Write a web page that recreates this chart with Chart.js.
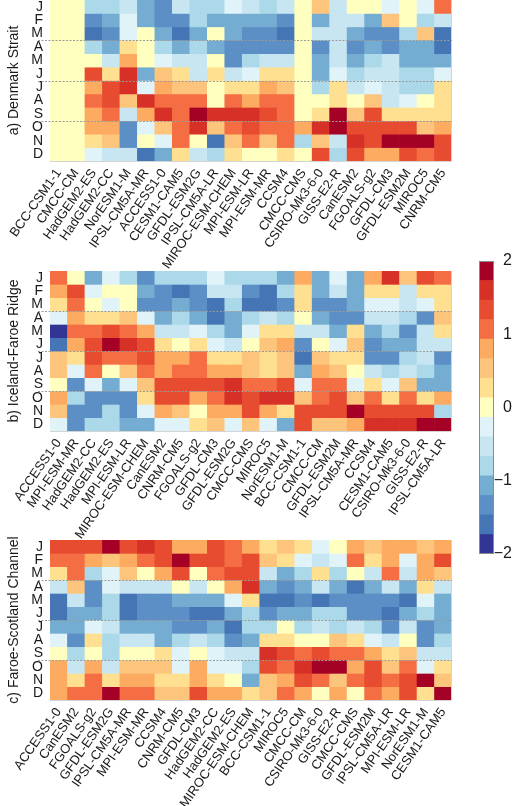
<!DOCTYPE html>
<html>
<head>
<meta charset="utf-8">
<script src="https://cdn.jsdelivr.net/npm/chart.js@4.4.1/dist/chart.umd.min.js"></script>
<style>
  body { margin: 0; background: #fff; }
  #page { position: relative; width: 520px; height: 806px; overflow: hidden; }
  canvas { position: absolute; }
</style>
</head>
<body>
<div id="page">
  <canvas id="chart-a" width="452" height="280" style="left:0;top:0"></canvas>
  <canvas id="chart-b" width="452" height="281" style="left:0;top:262px"></canvas>
  <canvas id="chart-c" width="452" height="282" style="left:0;top:530px"></canvas>
  <canvas id="colorbar" width="54" height="316" style="left:466px;top:250px"></canvas>
</div>
<script>
// Month rows (top to bottom)
const months = ["J", "F", "M", "A", "M", "J", "J", "A", "S", "O", "N", "D"];

// Model order of each panel
const denmarkModels = ["BCC-CSM1-1", "CMCC-CM", "HadGEM2-ES", "HadGEM2-CC", "NorESM1-M", "IPSL-CM5A-MR", "ACCESS1-0", "CESM1-CAM5", "GFDL-ESM2G", "IPSL-CM5A-LR", "MIROC-ESM-CHEM", "MPI-ESM-LR", "MPI-ESM-MR", "CCSM4", "CMCC-CMS", "CSIRO-Mk3-6-0", "GISS-E2-R", "CanESM2", "FGOALS-g2", "GFDL-CM3", "GFDL-ESM2M", "MIROC5", "CNRM-CM5"];
const icelandModels = ["ACCESS1-0", "MPI-ESM-MR", "HadGEM2-CC", "HadGEM2-ES", "MPI-ESM-LR", "MIROC-ESM-CHEM", "CanESM2", "CNRM-CM5", "FGOALS-g2", "GFDL-CM3", "GFDL-ESM2G", "CMCC-CMS", "MIROC5", "NorESM1-M", "BCC-CSM1-1", "CMCC-CM", "GFDL-ESM2M", "IPSL-CM5A-MR", "CCSM4", "CESM1-CAM5", "CSIRO-Mk3-6-0", "GISS-E2-R", "IPSL-CM5A-LR"];
const faroeModels = ["ACCESS1-0", "CanESM2", "FGOALS-g2", "GFDL-ESM2G", "IPSL-CM5A-MR", "MPI-ESM-MR", "CCSM4", "CNRM-CM5", "GFDL-CM3", "HadGEM2-CC", "HadGEM2-ES", "MIROC-ESM-CHEM", "BCC-CSM1-1", "MIROC5", "CMCC-CM", "CSIRO-Mk3-6-0", "GISS-E2-R", "CMCC-CMS", "GFDL-ESM2M", "IPSL-CM5A-LR", "MPI-ESM-LR", "NorESM1-M", "CESM1-CAM5"];

// Anomaly values, one row per month (J..D), one column per model
const denmarkValues = [
  [0, 0, -0.8, -0.8, -0.5, -1.1, -1.3, -0.5, -0.8, -0.8, -0.3, -0.5, -0.8, -0.5, 0, 0.5, -0.5, 0, 0, -0.3, 0, -0.3, 1.1],
  [0, 0, -1.3, -1.1, -0.3, -1.1, -1.3, -1.3, -0.8, -1.1, -1.1, -1.1, -1.1, -1.3, 0, -1.1, -0.5, -0.5, -1.1, 0.5, 0, -0.8, -0.5],
  [0, 0, -1.6, -1.3, -0.3, 0, -1.1, -1.6, -1.1, 0, -1.1, -1.3, -1.3, -1.6, 0, -0.5, -0.5, -1.1, -1.3, -1.3, -0.8, 0.5, -1.6],
  [0, 0, -0.8, -1.1, 0.3, 0, -0.8, -1.1, -0.8, -1.1, -1.3, -1.3, -1.3, -1.3, 0, -1.3, -0.5, -1.3, -1.1, -1.3, -1.1, -1.1, -1.6],
  [0, 0, 0, -0.5, 0.8, 0, -0.3, -0.5, -0.5, 0, -1.3, -0.8, -0.5, -0.5, 0, -1.1, -0.5, -1.1, -0.8, -0.5, -1.1, -1.1, -1.1],
  [0, 0, 1.3, 0.3, 1.6, -1.1, 0.5, 0.3, -0.5, 0.3, -0.5, -0.3, 0.3, 0.3, 0, -1.1, -0.3, -0.8, -0.5, -0.5, -0.8, -0.8, -0.3],
  [0, 0, 0.8, 1.3, 1.6, -0.3, 0.8, 0.5, 0.5, 0, 0.3, 0.3, 0.8, 0.5, 0, -0.8, 0.3, -0.5, -0.3, -0.5, -0.8, -0.8, 0.3],
  [0, 0, 1.1, 1.3, 0.5, 1.6, 1.1, 1.1, 1.1, 0, 1.1, 0.8, 1.1, 1.1, 0, 0, 0.3, 0, 0.5, -0.5, -0.3, 0, 0.3],
  [0, 0, 0.8, 1.1, -0.5, 0.8, 1.6, 1.1, 1.9, 1.6, 1.6, 1.6, 1.3, 1.1, 0, 0.3, 1.9, 0.5, 1.3, 0.3, 0.3, 0.3, 0.3],
  [0, 0, 0.8, 0.8, -1.3, -0.3, 0.5, 1.1, 1.6, 0.5, 1.1, 1.3, 1.1, 1.1, 0.8, 1.6, 1.9, 1.3, 1.3, 1.3, 1.3, 0.5, 0.8],
  [0, 0, 0.3, 0.5, -1.3, 0, -0.3, 1.1, 0, -1.6, 0.5, 1.1, 0.5, 1.1, -0.8, 0.5, -0.5, 1.6, 1.3, 1.9, 1.9, 1.9, 1.3],
  [0, 0, -0.3, -0.5, -0.5, -1.6, -1.1, 0.3, -0.5, -0.8, 0.3, 0, 0, 0.3, 0, 1.3, -0.8, 1.3, 0.8, 0.8, 1.3, 1.1, 1.3]
];
const icelandValues = [
  [1.1, 0, -1.1, -0.3, -0.8, -1.3, -0.8, -0.8, -0.8, -0.3, -0.8, -0.8, -0.8, -1.1, 0.8, -1.1, -0.3, -1.1, 0.8, 1.6, 0.5, 1.3, 1.1],
  [0.8, 1.3, -0.3, 0, 0, -1.1, -1.3, -1.6, -1.3, -0.5, -0.5, -1.3, -1.6, -0.8, 0.3, -1.1, -0.5, -1.1, 0.3, 0.3, -0.5, 0.3, 0.3],
  [0.3, 1.1, 0, -0.3, 0, -1.3, -1.3, -1.1, -1.3, -1.6, -0.8, -1.6, -1.6, -1.3, 0.3, -1.3, -1.3, -1.1, -0.3, -0.3, -0.5, -0.3, 0.3],
  [-0.3, 0.8, 0.3, 0.3, 0.5, -0.3, -1.1, -0.8, -1.1, -1.6, -1.1, -0.8, -0.5, -0.8, 0, -1.1, -1.3, -1.3, -0.5, -0.5, -0.8, -1.3, 0.5],
  [-1.9, 1.1, 1.1, 1.3, 1.1, 0.8, -0.5, -0.5, -0.3, -0.8, -1.1, -0.3, 0.3, 0.3, -0.5, -0.5, -1.1, 0.3, -1.1, -0.8, -1.3, -0.5, 0.3],
  [-1.6, 0.8, 1.3, 1.9, 1.6, 1.3, 0.3, 0, 0.3, -0.3, -0.5, 0, 0.5, 0.8, -1.3, 0, -0.3, 0.5, -1.3, -1.1, -1.1, -0.5, -0.5],
  [0.5, 0.3, 1.3, 1.1, 1.1, 1.3, 0.8, 0.8, 1.1, 0.3, 0.3, 0.5, 0.3, 0.5, -1.6, 0.5, 0.3, 0.3, -1.3, -1.3, -0.8, -0.5, -1.3],
  [0.5, -0.3, 1.1, 0, 0.5, 1.1, 0.8, 1.1, 1.1, 0.8, 0.8, 0.5, 0.3, 0.5, -1.1, 0.8, 0.5, 0, -0.5, -0.8, -0.5, -0.8, -1.1],
  [0, -1.3, -0.3, -1.1, -0.3, 0.5, 1.3, 1.3, 1.3, 1.3, 1.6, 1.1, 1.1, 1.3, -0.3, 1.1, 1.1, -0.3, 0.3, -0.3, 0.5, -1.1, -1.1],
  [0.8, -0.8, -1.3, -1.3, -1.3, 0.3, 1.3, 1.3, 0.8, 1.1, 1.6, 1.3, 1.6, 1.6, 0.5, 1.1, 1.3, 0.5, 1.1, 0.3, 1.1, 0.3, 0.8],
  [0.5, -1.3, -1.3, -0.8, -1.3, -0.3, 0.8, 0.5, 0, 0.8, 0.8, 1.3, 0.8, 0.3, 1.3, 1.3, 1.3, 1.9, 1.3, 1.3, 1.3, 1.3, -0.8],
  [-0.3, -1.3, -0.8, -0.8, -1.1, -1.1, -0.3, -0.3, 0.3, 0.5, -0.3, 0.5, -0.3, -1.1, 1.3, 0.5, 0.5, 0.8, 1.6, 1.6, 1.6, 1.9, 1.9]
];
const faroeValues = [
  [1.3, 1.3, 1.3, 1.9, 1.3, 1.6, 1.3, 0.8, 0.8, 1.3, 1.1, 0.8, 0.3, 0.5, 0.3, -0.3, 0, 0.8, 0.5, 0.8, 0.8, 0.5, 0.8],
  [1.1, 1.1, 0.8, 0.5, 0.8, 1.1, 1.3, 1.9, 1.3, 1.3, 1.1, 1.3, 0.5, 0.3, -0.3, -0.5, -0.3, 1.1, 0.3, 0.8, -0.3, 0.8, 1.3],
  [0.3, 1.1, -0.8, -0.3, 0.5, 0, 0.8, 1.3, 0, 1.1, 1.3, 1.3, -0.5, -1.1, -0.8, 0.3, -0.8, 0, -0.5, 1.1, -0.5, 0.8, 0.5],
  [-0.5, 0.5, -1.3, -0.3, -0.5, -0.5, -0.5, 0, -0.5, 0, 0.8, 1.6, -1.1, -1.3, -1.1, -0.5, -1.1, -1.6, -1.1, -0.5, -1.1, 0.3, -0.5],
  [-1.6, -0.5, -1.3, -0.8, -1.6, -1.3, -1.3, -1.1, -1.1, -1.1, -0.3, 0.3, -1.6, -1.6, -1.3, -1.6, -1.3, -1.3, -1.3, -1.3, -1.6, -0.3, -1.1],
  [-1.6, -1.1, -1.1, -0.8, -1.6, -1.3, -1.3, -1.3, -1.6, -1.6, -1.1, -0.8, -1.3, -1.1, -1.1, -0.8, -0.8, -1.3, -1.3, -1.6, -1.1, -0.8, -1.1],
  [-1.1, -1.1, -0.3, -0.5, -1.1, -1.1, -1.1, -1.3, -1.3, -1.1, -1.6, -0.8, -0.8, 0, -0.8, -0.5, -0.8, -0.5, -0.8, -1.3, -0.5, -1.3, -1.1],
  [-0.3, -1.3, 0.3, -0.8, -0.5, -0.5, -1.1, -0.8, -0.5, -0.8, -1.3, -1.1, 0.3, 0.3, 0, 0, 0.5, 0.3, -0.3, -0.5, 0, -1.3, -0.8],
  [0, -0.8, 0, -0.8, 0, 0, 0.3, -0.3, 0, -0.3, -0.5, -0.5, 1.6, 1.3, 1.1, 1.3, 1.1, 1.1, 0.8, 0.3, 0.5, -0.5, -0.5],
  [0.8, -0.5, 0.8, -0.5, 0.5, 0.5, 0.5, -0.3, 0.8, -0.3, -0.3, -0.8, 1.3, 1.1, 1.6, 1.9, 1.9, 0.8, 1.3, 0.5, 1.1, -0.3, 0.3],
  [0.8, 0.3, 1.1, 0.3, 0.8, 0.8, 0.3, 0.3, 0.8, 0.3, 0, -1.1, 0.5, 0.8, 1.3, 1.1, 0.5, 1.1, 1.3, 1.1, 1.3, 1.9, 0.5],
  [0.8, 1.1, 1.1, 1.9, 1.1, 1.1, 0.5, 0.5, 1.3, 0.8, 0.8, 0.3, 0.5, 1.1, 0.8, 0, 0.8, 0, 1.1, 0.8, 1.3, 0.3, 1.9]
];

// Colour bar: 15 classes from -2 to 2, blue to red
const palette = ["#313695", "#4575b4", "#5b8fc5", "#74add1", "#abd9e9", "#c8e6f1", "#e0f3f8", "#ffffbf",
  "#fee090", "#fdc47c", "#fdab60", "#f46d43", "#e74b30", "#d73027", "#a50026"];
const colorMin = -2;
const colorMax = 2;
const colorTicks = [-2, -1, 0, 1, 2];

const binWidth = (colorMax - colorMin) / palette.length;
const midClass = (palette.length - 1) / 2;

// Map a value to its colour class
function cellColor(v) {
  const level = Math.max(-midClass, Math.min(midClass, Math.round(v / binWidth)));
  return palette[level + midClass];
}

// Dotted season separators and light frame
const seasonLines = {
  id: "seasonLines",
  afterDatasetsDraw(chart) {
    const { ctx, chartArea } = chart;
    const y = chart.scales.y;
    ctx.save();
    ctx.strokeStyle = "#d4d4d4";
    ctx.lineWidth = 1;
    ctx.beginPath();
    ctx.moveTo(chartArea.left, chartArea.bottom + 0.5);
    ctx.lineTo(chartArea.right - 0.5, chartArea.bottom + 0.5);
    ctx.lineTo(chartArea.right - 0.5, chartArea.top);
    ctx.stroke();
    ctx.strokeStyle = "#9a9a9a";
    ctx.setLineDash([2, 1.5]);
    [3, 6, 9].forEach((row) => {
      const py = Math.round(y.getPixelForValue(row)) + 0.5;
      ctx.beginPath();
      ctx.moveTo(38, py);
      ctx.lineTo(chartArea.right, py);
      ctx.stroke();
    });
    ctx.restore();
  },
};

function makeHeatmap(canvasId, models, values, title, padTop, padBottom) {
  const datasets = months.map((m, i) => ({
    label: m,
    data: models.map(() => 1),
    backgroundColor: values[i].map(cellColor),
    borderWidth: 0,
    barPercentage: 1,
    categoryPercentage: 1,
  }));

  new Chart(document.getElementById(canvasId), {
    type: "bar",
    data: { labels: models, datasets },
    options: {
      responsive: false,
      animation: false,
      layout: { padding: { top: padTop, bottom: padBottom, left: 0, right: 0 } },
      plugins: { legend: { display: false }, tooltip: { enabled: false } },
      scales: {
        x: {
          stacked: true,
          grid: { display: false, drawTicks: false },
          border: { display: false },
          ticks: {
            autoSkip: false,
            minRotation: 55,
            maxRotation: 55,
            padding: 5,
            color: "#1a1a1a",
            font: { family: "Liberation Sans", size: 13 },
          },
          afterFit(scale) {
            scale.height = 112;
            scale.paddingLeft = 0;
            scale.paddingRight = 0;
          },
        },
        y: {
          stacked: true,
          min: 0,
          max: 12,
          reverse: true,
          grid: { display: false, drawTicks: false },
          border: { display: false },
          afterBuildTicks(scale) {
            scale.ticks = months.map((m, i) => ({ value: i + 0.5 }));
          },
          ticks: {
            autoSkip: false,
            padding: 7,
            color: "#1a1a1a",
            font: { family: "Liberation Sans", size: 14 },
            callback: (value, index) => months[index],
          },
          title: {
            display: true,
            text: title,
            color: "#1a1a1a",
            padding: { top: 6, bottom: 0 },
            font: { family: "Liberation Sans", size: 14 },
          },
          afterFit(scale) {
            scale.width = 50;
            scale.paddingTop = 0;
            scale.paddingBottom = 0;
          },
        },
      },
    },
    plugins: [seasonLines],
  });
}

function makeColorbar() {
  const datasets = palette.map((color, i) => ({
    data: [[colorMin + i * binWidth, colorMin + (i + 1) * binWidth]],
    backgroundColor: color,
    borderWidth: 0,
    grouped: false,
    barPercentage: 1,
    categoryPercentage: 1,
  }));

  const outline = {
    id: "outline",
    afterDatasetsDraw(chart) {
      const { ctx, chartArea } = chart;
      ctx.save();
      ctx.strokeStyle = "#8c8c8c";
      ctx.lineWidth = 1;
      ctx.strokeRect(chartArea.left + 0.5, chartArea.top + 0.5, chartArea.width - 1, chartArea.height - 1);
      ctx.restore();
    },
  };

  new Chart(document.getElementById("colorbar"), {
    type: "bar",
    data: { labels: [""], datasets },
    options: {
      responsive: false,
      animation: false,
      layout: { padding: { top: 11, bottom: 12, left: 13, right: 8 } },
      plugins: { legend: { display: false }, tooltip: { enabled: false } },
      scales: {
        x: { display: false },
        y: {
          position: "right",
          min: colorMin,
          max: colorMax,
          grid: { display: false, drawTicks: false },
          border: { display: false },
          afterBuildTicks(scale) {
            scale.ticks = colorTicks.map((v) => ({ value: v }));
          },
          ticks: {
            crossAlign: "far",
            padding: 0,
            color: "#1a1a1a",
            font: { family: "Liberation Sans", size: 16 },
            callback: (v) => (v < 0 ? "\u2212" + Math.abs(v) : String(v)),
          },
          afterFit(scale) {
            scale.width = 18;
            scale.paddingTop = 0;
            scale.paddingBottom = 0;
          },
        },
      },
    },
    plugins: [outline],
  });
}

document.addEventListener("DOMContentLoaded", () => {
  makeHeatmap("chart-a", denmarkModels, denmarkValues, "a) Denmark Strait", 0, 7);
  makeHeatmap("chart-b", icelandModels, icelandValues, "b) Iceland-Faroe Ridge", 9, 0);
  makeHeatmap("chart-c", faroeModels, faroeValues, "c) Faroe-Scotland Channel", 10, 0);
  makeColorbar();
});
</script>
</body>
</html>
